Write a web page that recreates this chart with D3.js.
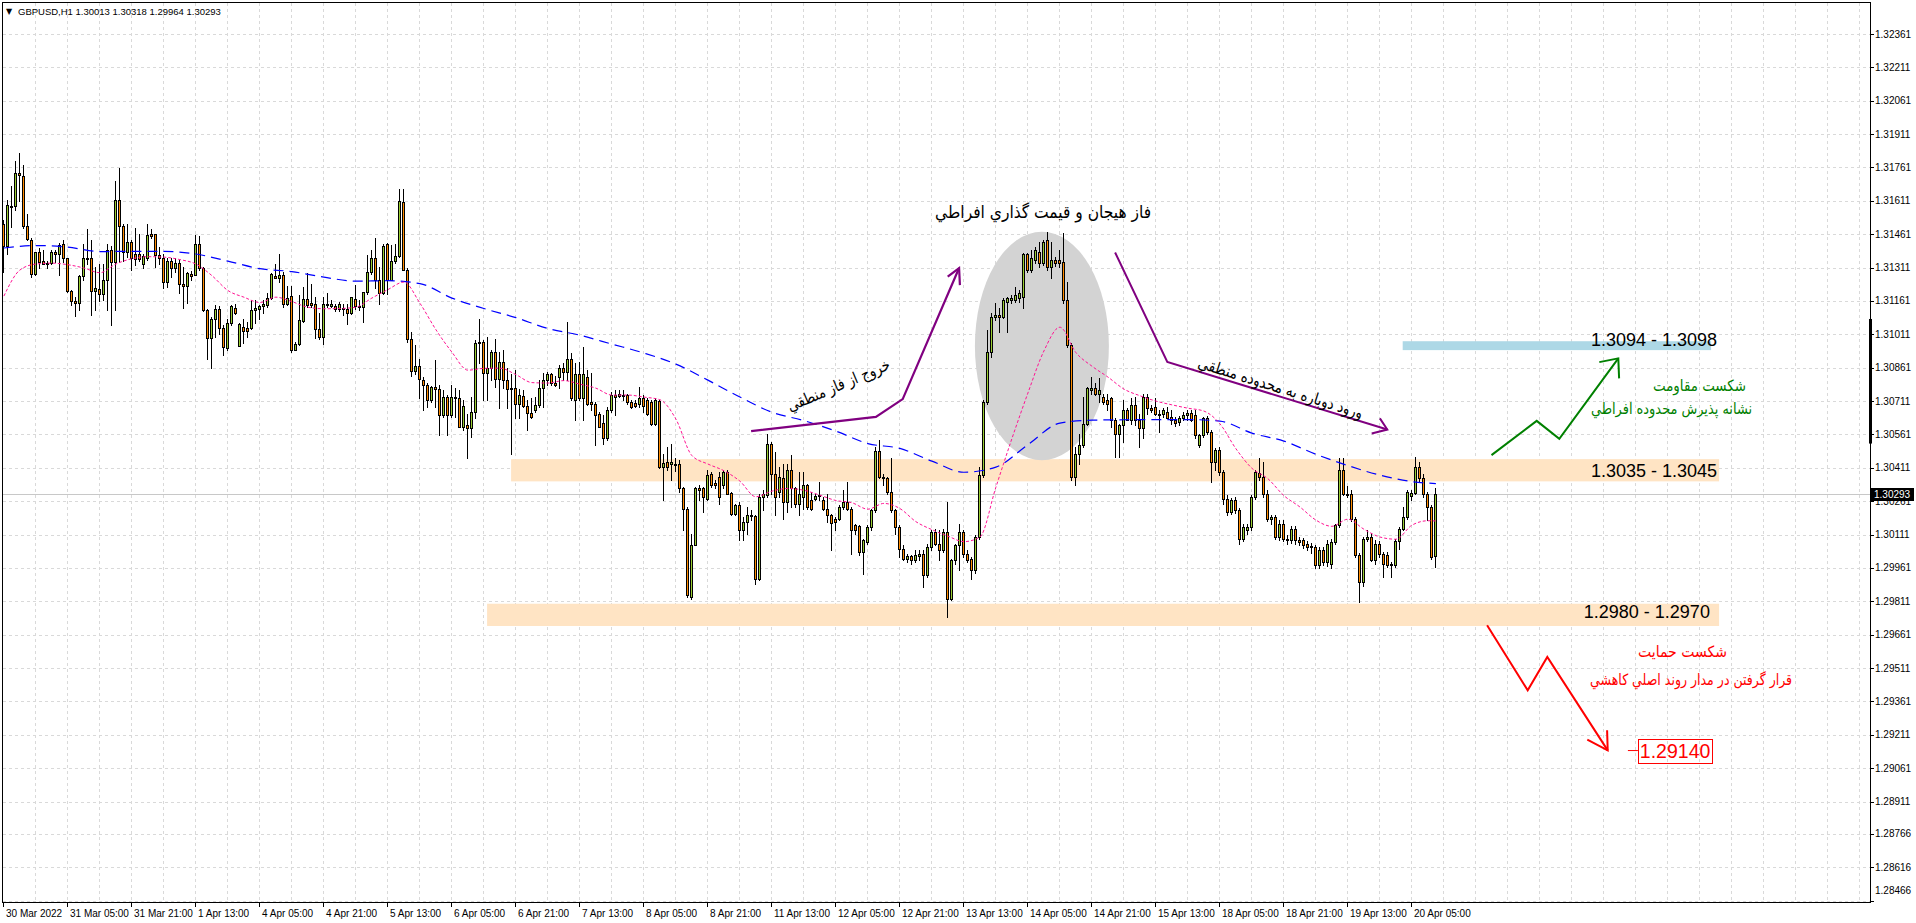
<!DOCTYPE html>
<html><head><meta charset="utf-8">
<script src="https://cdn.jsdelivr.net/npm/d3@7"></script>
<style>
html,body{margin:0;padding:0;background:#fff;overflow:hidden}
svg{display:block}
</style></head><body>
<svg id="c" width="1916" height="923"></svg>
<script>
// ---------------- DATA ----------------
const headerText = "GBPUSD,H1  1.30013 1.30318 1.29964 1.30293";
const lastPrice = 1.30293;

const opens=[
1.31509,1.31407,1.31590,1.31587,1.31734,1.31722,1.31500,1.31434,1.31284,1.31379,
1.31341,1.31332,1.31332,1.31380,1.31370,1.31415,1.31352,1.31205,1.31163,1.31154,
1.31272,1.31356,1.31352,1.31208,1.31214,1.31192,1.31254,1.31392,1.31337,1.31614,
1.31500,1.31382,1.31427,1.31371,1.31370,1.31326,1.31352,1.31460,1.31460,1.31367,
1.31356,1.31244,1.31340,1.31307,1.31332,1.31235,1.31229,1.31284,1.31279,1.31419,
1.31307,1.31122,1.30996,1.31079,1.31127,1.31041,1.30951,1.31062,1.31131,1.30960,
1.31044,1.31041,1.31041,1.31122,1.31127,1.31137,1.31142,1.31176,1.31272,1.31262,
1.31277,1.31149,1.31182,1.30942,1.30966,1.31071,1.31172,1.31152,1.31149,1.31037,
1.30999,1.31146,1.31139,1.31139,1.31127,1.31130,1.31127,1.31107,1.31172,1.31137,
1.31134,1.31202,1.31292,1.31356,1.31257,1.31197,1.31415,1.31257,1.31341,1.31362,
1.31604,1.31302,1.30990,1.30844,1.30868,1.30805,1.30783,1.30715,1.30772,1.30763,
1.30648,1.30730,1.30648,1.30730,1.30723,1.30595,1.30603,1.30588,1.30663,1.30970,
1.30978,1.30838,1.30858,1.30933,1.30808,1.30885,1.30805,1.30763,1.30768,1.30700,
1.30733,1.30688,1.30658,1.30670,1.30693,1.30768,1.30805,1.30832,1.30790,1.30820,
1.30858,1.30843,1.30898,1.30715,1.30832,1.30723,1.30817,1.30708,1.30697,1.30655,
1.30613,1.30543,1.30670,1.30738,1.30733,1.30738,1.30738,1.30708,1.30703,1.30700,
1.30727,1.30715,1.30708,1.30607,1.30711,1.30415,1.30435,1.30427,1.30430,1.30430,
1.30318,1.30228,1.29830,1.30063,1.30318,1.30318,1.30273,1.30382,1.30343,1.30370,
1.30333,1.30393,1.30298,1.30205,1.30243,1.30130,1.30168,1.30198,1.30193,1.29913,
1.30280,1.30288,1.30520,1.30385,1.30303,1.30363,1.30258,1.30403,1.30318,1.30250,
1.30280,1.30333,1.30268,1.30273,1.30283,1.30268,1.30228,1.30198,1.30183,1.30183,
1.30235,1.30258,1.30228,1.30153,1.30148,1.30033,1.30078,1.30145,1.30220,1.30486,
1.30370,1.30367,1.30303,1.30220,1.30145,1.30048,1.30003,1.30013,1.29995,1.30013,
1.30022,1.29928,1.30055,1.30123,1.30070,1.30040,1.30123,1.29823,1.29995,1.30063,
1.30123,1.30025,1.30003,1.29950,1.30100,1.30378,1.30708,1.30933,1.31090,1.31098,
1.31090,1.31158,1.31165,1.31165,1.31173,1.31180,1.31372,1.31300,1.31345,1.31383,
1.31330,1.31435,1.31315,1.31345,1.31345,1.31338,1.31165,1.30963,1.30370,1.30475,
1.30513,1.30610,1.30760,1.30768,1.30745,1.30730,1.30715,1.30723,1.30625,1.30565,
1.30603,1.30670,1.30625,1.30693,1.30625,1.30588,1.30730,1.30678,1.30685,1.30655,
1.30655,1.30663,1.30640,1.30625,1.30618,1.30633,1.30648,1.30658,1.30648,1.30513,
1.30558,1.30633,1.30573,1.30438,1.30490,1.30393,1.30273,1.30213,1.30268,1.30220,
1.30093,1.30130,1.30145,1.30280,1.30388,1.30370,1.30295,1.30183,1.30190,1.30100,
1.30160,1.30093,1.30085,1.30138,1.30085,1.30085,1.30070,1.30060,1.30055,1.29973,
1.30043,1.29988,1.29980,1.30078,1.30153,1.30400,1.30295,1.30295,1.30183,1.30018,
1.29898,1.30093,1.30100,1.29995,1.30070,1.30025,1.30018,1.29980,1.29973,1.30082,
1.30138,1.30190,1.30283,1.30298,1.30415,1.30363,1.30295,1.30235,1.30013];

const highs=[
1.31524,1.31617,1.31677,1.31791,1.31828,1.31774,1.31551,1.31442,1.31382,1.31397,
1.31389,1.31340,1.31389,1.31389,1.31422,1.31437,1.31355,1.31209,1.31179,1.31277,
1.31419,1.31484,1.31434,1.31314,1.31329,1.31329,1.31415,1.31407,1.31701,1.31760,
1.31505,1.31509,1.31434,1.31491,1.31464,1.31374,1.31506,1.31484,1.31464,1.31404,
1.31374,1.31352,1.31352,1.31352,1.31344,1.31314,1.31292,1.31296,1.31457,1.31452,
1.31314,1.31127,1.31089,1.31142,1.31139,1.31052,1.31082,1.31143,1.31149,1.31062,
1.31082,1.31067,1.31167,1.31164,1.31145,1.31167,1.31197,1.31287,1.31329,1.31370,
1.31292,1.31227,1.31227,1.30977,1.31187,1.31224,1.31287,1.31239,1.31179,1.31107,
1.31179,1.31197,1.31164,1.31149,1.31157,1.31149,1.31149,1.31179,1.31232,1.31164,
1.31202,1.31367,1.31389,1.31446,1.31314,1.31419,1.31422,1.31412,1.31419,1.31666,
1.31666,1.31307,1.31022,1.30962,1.30898,1.30820,1.30793,1.30778,1.30895,1.30783,
1.30760,1.30738,1.30783,1.30768,1.30760,1.30715,1.30655,1.30730,1.30985,1.31080,
1.30985,1.30997,1.30940,1.30988,1.30933,1.30940,1.30858,1.30832,1.30850,1.30763,
1.30760,1.30715,1.30723,1.30730,1.30805,1.30835,1.30843,1.30835,1.30823,1.30873,
1.30880,1.31065,1.30925,1.30880,1.30888,1.30955,1.30850,1.30835,1.30708,1.30663,
1.30648,1.30685,1.30753,1.30760,1.30760,1.30760,1.30745,1.30715,1.30715,1.30775,
1.30738,1.30723,1.30715,1.30723,1.30715,1.30475,1.30505,1.30520,1.30453,1.30445,
1.30325,1.30235,1.30115,1.30325,1.30333,1.30325,1.30400,1.30393,1.30355,1.30393,
1.30400,1.30400,1.30303,1.30250,1.30258,1.30190,1.30235,1.30220,1.30198,1.30295,
1.30310,1.30565,1.30528,1.30483,1.30415,1.30430,1.30430,1.30468,1.30325,1.30393,
1.30393,1.30340,1.30303,1.30295,1.30348,1.30280,1.30295,1.30205,1.30190,1.30243,
1.30310,1.30348,1.30235,1.30160,1.30153,1.30093,1.30153,1.30228,1.30505,1.30535,
1.30385,1.30370,1.30453,1.30228,1.30153,1.30063,1.30025,1.30018,1.30040,1.30040,
1.30040,1.30070,1.30130,1.30138,1.30130,1.30138,1.30258,1.30003,1.30070,1.30160,
1.30130,1.30040,1.30010,1.30110,1.30415,1.30715,1.31030,1.31105,1.31150,1.31128,
1.31173,1.31180,1.31188,1.31225,1.31210,1.31375,1.31375,1.31390,1.31405,1.31428,
1.31435,1.31473,1.31428,1.31360,1.31390,1.31465,1.31248,1.30970,1.30505,1.30565,
1.30730,1.30775,1.30820,1.30790,1.30813,1.30745,1.30745,1.30730,1.30633,1.30610,
1.30715,1.30680,1.30723,1.30730,1.30655,1.30745,1.30745,1.30693,1.30723,1.30670,
1.30680,1.30685,1.30670,1.30640,1.30645,1.30660,1.30670,1.30670,1.30670,1.30565,
1.30640,1.30645,1.30580,1.30500,1.30505,1.30400,1.30290,1.30275,1.30280,1.30230,
1.30160,1.30160,1.30290,1.30400,1.30453,1.30438,1.30310,1.30200,1.30200,1.30175,
1.30175,1.30110,1.30150,1.30150,1.30100,1.30095,1.30080,1.30075,1.30065,1.30055,
1.30055,1.30085,1.30090,1.30160,1.30453,1.30453,1.30330,1.30310,1.30190,1.30030,
1.30100,1.30130,1.30120,1.30085,1.30080,1.30033,1.30033,1.29988,1.30093,1.30145,
1.30235,1.30310,1.30310,1.30460,1.30438,1.30385,1.30303,1.30243,1.30318];

const lows=[
1.31292,1.31374,1.31494,1.31569,1.31610,1.31487,1.31434,1.31269,1.31277,1.31307,
1.31326,1.31307,1.31329,1.31337,1.31277,1.31335,1.31202,1.31142,1.31094,1.31119,
1.31254,1.31329,1.31100,1.31119,1.31161,1.31164,1.31119,1.31055,1.31119,1.31335,
1.31341,1.31359,1.31302,1.31322,1.31341,1.31311,1.31347,1.31445,1.31314,1.31329,
1.31217,1.31224,1.31269,1.31292,1.31197,1.31131,1.31152,1.31254,1.31277,1.31302,
1.31116,1.30902,1.30859,1.30999,1.31014,1.30920,1.30942,1.31052,1.31101,1.30959,
1.30972,1.30999,1.31037,1.31062,1.31079,1.31107,1.31134,1.31172,1.31262,1.31247,
1.31134,1.31142,1.30932,1.30939,1.30962,1.31067,1.31134,1.31134,1.30996,1.30992,
1.30966,1.31134,1.31134,1.31116,1.31116,1.31097,1.31059,1.31104,1.31127,1.31119,
1.31067,1.31191,1.31284,1.31217,1.31149,1.31191,1.31194,1.31254,1.31332,1.31359,
1.31299,1.30977,1.30822,1.30834,1.30723,1.30670,1.30685,1.30708,1.30685,1.30558,
1.30640,1.30558,1.30640,1.30640,1.30595,1.30580,1.30453,1.30550,1.30633,1.30880,
1.30715,1.30715,1.30805,1.30775,1.30678,1.30768,1.30678,1.30475,1.30633,1.30633,
1.30685,1.30580,1.30635,1.30663,1.30685,1.30685,1.30783,1.30783,1.30778,1.30768,
1.30805,1.30805,1.30715,1.30625,1.30715,1.30625,1.30693,1.30670,1.30513,1.30595,
1.30520,1.30538,1.30663,1.30648,1.30730,1.30715,1.30700,1.30678,1.30685,1.30685,
1.30663,1.30648,1.30603,1.30603,1.30408,1.30265,1.30400,1.30355,1.30397,1.30303,
1.30130,1.29830,1.29823,1.30063,1.30265,1.30213,1.30265,1.30325,1.30318,1.30250,
1.30318,1.30295,1.30198,1.30198,1.30085,1.30085,1.30115,1.30175,1.29890,1.29905,
1.30220,1.30280,1.30295,1.30198,1.30280,1.30183,1.30213,1.30235,1.30235,1.30198,
1.30228,1.30228,1.30220,1.30265,1.30265,1.30220,1.30168,1.30040,1.30130,1.30175,
1.30228,1.30220,1.30025,1.30115,1.30018,1.29935,1.30070,1.30130,1.30213,1.30363,
1.30333,1.30295,1.30213,1.30115,1.30010,1.29995,1.29988,1.29980,1.29988,1.29998,
1.29875,1.29920,1.30040,1.30063,1.29995,1.30033,1.29739,1.29815,1.29980,1.29950,
1.30010,1.29988,1.29913,1.29940,1.30093,1.30370,1.30700,1.30910,1.31075,1.31023,
1.31083,1.31023,1.31150,1.31158,1.31158,1.31128,1.31293,1.31293,1.31330,1.31315,
1.31323,1.31300,1.31263,1.31320,1.31315,1.31150,1.30955,1.30355,1.30333,1.30430,
1.30505,1.30603,1.30745,1.30740,1.30708,1.30700,1.30670,1.30595,1.30460,1.30460,
1.30528,1.30625,1.30610,1.30603,1.30505,1.30543,1.30655,1.30663,1.30648,1.30573,
1.30640,1.30633,1.30610,1.30600,1.30605,1.30625,1.30625,1.30620,1.30543,1.30505,
1.30550,1.30565,1.30348,1.30400,1.30380,1.30250,1.30200,1.30205,1.30210,1.30070,
1.30080,1.30115,1.30130,1.30273,1.30355,1.30280,1.30170,1.30160,1.30090,1.30085,
1.30080,1.30070,1.30075,1.30070,1.30065,1.30050,1.30040,1.30030,1.29960,1.29960,
1.29975,1.29970,1.29960,1.30070,1.30145,1.30288,1.30280,1.30170,1.30010,1.29810,
1.29880,1.30080,1.29990,1.29980,1.30010,1.29920,1.29965,1.29920,1.29965,1.30048,
1.30130,1.30183,1.30265,1.30292,1.30348,1.30280,1.30175,1.30003,1.29964];

const closes=[
1.31407,1.31592,1.31589,1.31734,1.31725,1.31500,1.31439,1.31284,1.31379,1.31338,
1.31329,1.31331,1.31382,1.31370,1.31412,1.31352,1.31205,1.31163,1.31154,1.31272,
1.31356,1.31352,1.31208,1.31217,1.31192,1.31257,1.31392,1.31337,1.31614,1.31500,
1.31382,1.31424,1.31352,1.31349,1.31349,1.31362,1.31457,1.31451,1.31367,1.31356,
1.31244,1.31340,1.31307,1.31332,1.31235,1.31229,1.31287,1.31274,1.31416,1.31307,
1.31119,1.30996,1.31079,1.31127,1.31041,1.30954,1.31062,1.31137,1.31109,1.31056,
1.31026,1.31025,1.31122,1.31131,1.31139,1.31146,1.31176,1.31281,1.31266,1.31278,
1.31149,1.31176,1.30939,1.30966,1.31074,1.31172,1.31142,1.31142,1.31037,1.30999,
1.31146,1.31145,1.31146,1.31124,1.31149,1.31124,1.31107,1.31179,1.31139,1.31134,
1.31202,1.31292,1.31352,1.31257,1.31197,1.31410,1.31257,1.31341,1.31362,1.31610,
1.31302,1.30990,1.30844,1.30867,1.30808,1.30783,1.30715,1.30772,1.30763,1.30648,
1.30730,1.30648,1.30730,1.30723,1.30595,1.30688,1.30588,1.30663,1.30970,1.30978,
1.30838,1.30858,1.30933,1.30808,1.30885,1.30805,1.30763,1.30768,1.30700,1.30738,
1.30688,1.30658,1.30640,1.30693,1.30768,1.30805,1.30832,1.30790,1.30783,1.30858,
1.30843,1.30898,1.30723,1.30832,1.30723,1.30832,1.30700,1.30697,1.30648,1.30595,
1.30543,1.30670,1.30738,1.30730,1.30742,1.30733,1.30708,1.30685,1.30688,1.30726,
1.30688,1.30655,1.30607,1.30715,1.30415,1.30433,1.30415,1.30435,1.30423,1.30318,
1.30228,1.29838,1.30063,1.30318,1.30310,1.30280,1.30378,1.30333,1.30333,1.30280,
1.30393,1.30295,1.30205,1.30243,1.30130,1.30168,1.30198,1.30193,1.29913,1.30280,
1.30295,1.30520,1.30385,1.30280,1.30370,1.30258,1.30400,1.30318,1.30250,1.30295,
1.30333,1.30235,1.30228,1.30283,1.30288,1.30228,1.30198,1.30163,1.30168,1.30235,
1.30258,1.30228,1.30130,1.30130,1.30033,1.30085,1.30145,1.30220,1.30486,1.30370,
1.30363,1.30303,1.30220,1.30145,1.30048,1.30003,1.30013,1.29995,1.30018,1.30022,
1.29928,1.30055,1.30123,1.30070,1.30040,1.30123,1.29823,1.29995,1.30063,1.30123,
1.30025,1.29995,1.29950,1.30100,1.30378,1.30708,1.30933,1.31090,1.31098,1.31090,
1.31165,1.31173,1.31173,1.31188,1.31195,1.31372,1.31300,1.31353,1.31390,1.31330,
1.31428,1.31315,1.31345,1.31333,1.31330,1.31165,1.30963,1.30370,1.30475,1.30513,
1.30610,1.30768,1.30768,1.30745,1.30760,1.30708,1.30700,1.30625,1.30565,1.30603,
1.30670,1.30625,1.30693,1.30625,1.30588,1.30730,1.30678,1.30670,1.30655,1.30648,
1.30670,1.30633,1.30625,1.30613,1.30633,1.30648,1.30658,1.30625,1.30558,1.30558,
1.30633,1.30573,1.30438,1.30490,1.30393,1.30273,1.30213,1.30265,1.30220,1.30093,
1.30145,1.30145,1.30280,1.30393,1.30370,1.30295,1.30183,1.30190,1.30100,1.30160,
1.30093,1.30088,1.30138,1.30085,1.30078,1.30063,1.30055,1.30055,1.29973,1.30043,
1.29988,1.30070,1.30078,1.30153,1.30400,1.30295,1.30288,1.30183,1.30018,1.29898,
1.30093,1.30100,1.29995,1.30070,1.30022,1.29980,1.29973,1.29973,1.30082,1.30138,
1.30190,1.30303,1.30298,1.30415,1.30363,1.30295,1.30235,1.30010,1.30293];

// slow moving average (blue), read every 8 bars, plus last bar
const slowMA=[1.31399,1.31410,1.31403,1.31383,1.31384,1.31384,1.31372,1.31340,1.31306,1.31293,
1.31268,1.31250,1.31252,1.31239,1.31174,1.31127,1.31086,1.31037,1.31007,1.30967,
1.30927,1.30877,1.30805,1.30729,1.30661,1.30623,1.30576,1.30520,1.30498,1.30441,
1.30391,1.30414,1.30515,1.30612,1.30625,1.30627,1.30628,1.30628,1.30621,1.30567,
1.30531,1.30472,1.30421,1.30378,1.30349,1.30340];
// fast moving average (pink), read every 4 bars, plus last bar
const fastMA=[1.31183,1.31300,1.31327,1.31331,1.31324,1.31309,1.31288,1.31327,1.31351,1.31360,
1.31358,1.31347,1.31327,1.31275,1.31208,1.31178,1.31154,1.31178,1.31158,1.31133,
1.31126,1.31127,1.31133,1.31174,1.31212,1.31246,1.31151,1.31032,1.30931,1.30850,
1.30858,1.30859,1.30830,1.30794,1.30792,1.30803,1.30787,1.30769,1.30738,1.30738,
1.30729,1.30717,1.30630,1.30466,1.30428,1.30398,1.30351,1.30281,1.30306,1.30318,
1.30310,1.30288,1.30264,1.30254,1.30225,1.30251,1.30228,1.30169,1.30133,1.30104,
1.30079,1.30100,1.30324,1.30542,1.30747,1.30936,1.31043,1.30929,1.30868,1.30819,
1.30765,1.30735,1.30711,1.30694,1.30679,1.30666,1.30609,1.30497,1.30409,1.30362,
1.30286,1.30235,1.30176,1.30148,1.30180,1.30135,1.30100,1.30090,1.30153,1.30173,
1.30172];

const priceTicks=[1.32361,1.32211,1.32061,1.31911,1.31761,1.31611,1.31461,1.31311,1.31161,1.31011,
1.30861,1.30711,1.30561,1.30411,1.30261,1.30111,1.29961,1.29811,1.29661,1.29511,
1.29361,1.29211,1.29061,1.28911,1.28766,1.28616,1.28466];
const timeLabels=["30 Mar 2022","31 Mar 05:00","31 Mar 21:00","1 Apr 13:00","4 Apr 05:00","4 Apr 21:00",
"5 Apr 13:00","6 Apr 05:00","6 Apr 21:00","7 Apr 13:00","8 Apr 05:00","8 Apr 21:00","11 Apr 13:00",
"12 Apr 05:00","12 Apr 21:00","13 Apr 13:00","14 Apr 05:00","14 Apr 21:00","15 Apr 13:00","18 Apr 05:00",
"18 Apr 21:00","19 Apr 13:00","20 Apr 05:00"];
const timeTickBars=[0,16,32,48,64,80,96,112,128,144,160,176,192,208,224,240,256,272,288,304,320,336,352];

// zones (bar index range, price range)
const zones=[
 {from:349.7,to:426.8,lo:1.3094,hi:1.3098,color:"#add8e6",label:"1.3094 - 1.3098",lx:428.3,ly:1.30985},
 {from:126.8,to:428.8,lo:1.3035,hi:1.3045,color:"#ffe4c4",label:"1.3035 - 1.3045",lx:428.3,ly:1.30397},
 {from:120.8,to:428.8,lo:1.2970,hi:1.2980,color:"#ffe4c4",label:"1.2980 - 1.2970",lx:426.5,ly:1.29763}
];
const target={bar:417.8,price:1.29140,label:"1.29140"};

// ---------------- CHART ----------------
const svg=d3.select("#c");
const R=1870, B=902;
const x=d3.scaleLinear().domain([0,358]).range([3.9,1435.9]);
const y=d3.scaleLinear().domain([1.28466,1.32361]).range([900.5,34]);
const AX="'Liberation Sans',Arial,sans-serif";
const FA="'DejaVu Sans','Noto Sans',sans-serif";

svg.append("rect").attr("width",1916).attr("height",923).attr("fill","#fff");

// grid
const grid=svg.append("g").attr("stroke","#d9d9d9").attr("stroke-dasharray","3,3").attr("shape-rendering","crispEdges");
grid.selectAll(".h").data(priceTicks).join("line")
 .attr("x1",3).attr("x2",R).attr("y1",d=>Math.round(y(d))+0.5).attr("y2",d=>Math.round(y(d))+0.5);
grid.selectAll(".v").data(d3.range(8,466,8)).join("line")
 .attr("y1",3).attr("y2",B).attr("x1",d=>Math.floor(x(d))+0.5).attr("x2",d=>Math.floor(x(d))+0.5);

// background objects: zones, ellipse
svg.append("g").selectAll("rect").data(zones).join("rect")
 .attr("x",d=>x(d.from)).attr("width",d=>x(d.to)-x(d.from))
 .attr("y",d=>y(d.hi)).attr("height",d=>y(d.lo)-y(d.hi)).attr("fill",d=>d.color);

const ec={bar:259.5,price:1.309585};
svg.append("ellipse").attr("cx",x(ec.bar)).attr("cy",y(ec.price))
 .attr("rx",x(ec.bar+16.75)-x(ec.bar)).attr("ry",y(ec.price-0.005135)-y(ec.price))
 .attr("fill","#d3d3d3");

// bid line
svg.append("line").attr("x1",3).attr("x2",R).attr("y1",Math.round(y(lastPrice))+0.5).attr("y2",Math.round(y(lastPrice))+0.5)
 .attr("stroke","#c8c8c8").attr("shape-rendering","crispEdges");

// candles
const bars=opens.map((o,i)=>({i,o,h:highs[i],l:lows[i],c:closes[i]}));
const cg=svg.append("g").attr("shape-rendering","crispEdges");
cg.selectAll("line").data(bars).join("line")
 .attr("x1",d=>Math.floor(x(d.i))+0.5).attr("x2",d=>Math.floor(x(d.i))+0.5)
 .attr("y1",d=>Math.round(y(d.h))).attr("y2",d=>Math.round(y(d.l))+1)
 .attr("stroke","#000");
cg.selectAll("rect").data(bars).join("rect")
 .attr("x",d=>Math.floor(x(d.i))-0.5).attr("width",2)
 .attr("y",d=>Math.round(y(Math.max(d.o,d.c)))+0.5)
 .attr("height",d=>Math.max(1,Math.round(y(Math.min(d.o,d.c)))-Math.round(y(Math.max(d.o,d.c)))))
 .attr("fill",d=>d.c>=d.o?"#9acd32":"#ff8c00").attr("stroke","#000");

// moving averages
const slowBars=d3.range(0,353,8).concat([358]);
const fastBars=d3.range(0,357,4).concat([358]);
svg.append("path").datum(slowMA.map((v,k)=>[slowBars[k],v]))
 .attr("d",d3.line().x(d=>x(d[0])).y(d=>y(d[1])).curve(d3.curveMonotoneX))
 .attr("fill","none").attr("stroke","#0000ff").attr("stroke-width",1.2).attr("stroke-dasharray","10,6");
svg.append("path").datum(fastMA.map((v,k)=>[fastBars[k],v]))
 .attr("d",d3.line().x(d=>x(d[0])).y(d=>y(d[1])).curve(d3.curveMonotoneX))
 .attr("fill","none").attr("stroke","#ff1493").attr("stroke-width",1).attr("stroke-dasharray","3,2");

// annotation lines (bar index, price)
function poly(pts,color,w){
 svg.append("path").datum(pts).attr("d",d3.line().x(d=>x(d[0])).y(d=>y(d[1])))
  .attr("fill","none").attr("stroke",color).attr("stroke-width",w).attr("stroke-linejoin","miter");
}
const purple="#800080";
poly([[186.8,1.30576],[218,1.30640],[224.7,1.30720],[238.8,1.31309]],purple,2.2);
poly([[235.95,1.31270],[238.8,1.31309],[239,1.31232]],purple,2.2);
poly([[277.8,1.31379],[290.85,1.30887],[345.85,1.30583]],purple,2);
poly([[344,1.30633],[345.85,1.30583],[341.95,1.30565]],purple,2);
poly([[371.9,1.30468],[383.2,1.30622],[388.85,1.30541],[403.6,1.30903]],"#008000",2);
poly([[398.85,1.30886],[403.6,1.30903],[403.8,1.30813]],"#008000",2);
poly([[370.8,1.29703],[380.95,1.29411],[385.85,1.29561],[400.95,1.29141]],"#ff0000",2);
poly([[395.85,1.29189],[400.95,1.29141],[400.8,1.29231]],"#ff0000",2);

// texts
function ftext(bar,price,str,opt){
 const t=svg.append("text").attr("transform",`translate(${x(bar)},${y(price)}) rotate(${opt.rot||0})`)
  .attr("text-anchor","middle").attr("dominant-baseline","central")
  .attr("font-family",FA).attr("font-size",opt.size).attr("fill",opt.color).text(str);
 if(opt.len) t.attr("textLength",opt.len).attr("lengthAdjust","spacingAndGlyphs");
}
ftext(259.8,1.31562,"فاز هيجان و قيمت گذاري افراطي",{size:17.5,color:"#000",len:216});
ftext(208.65,1.30783,"خروج از فاز منطقي",{size:16,color:"#000",len:110,rot:-23});
ftext(319.2,1.30771,"ورود دوباره به محدوده منطقي",{size:16,color:"#000",len:172,rot:17.4});
ftext(423.9,1.30778,"شکست مقاومت",{size:15.5,color:"#008000",len:93});
ftext(416.9,1.30675,"نشانه پذیرش محدوده افراطي",{size:15.5,color:"#008000",len:161});
ftext(419.65,1.29583,"شکست حمایت",{size:15.5,color:"#ff0000",len:89});
ftext(421.8,1.29456,"قرار گرفتن در مدار روند اصلي کاهشي",{size:15.5,color:"#ff0000",len:202});

// zone labels
svg.append("g").selectAll("text").data(zones).join("text")
 .attr("x",d=>x(d.lx)).attr("y",d=>y(d.ly)).attr("text-anchor","end").attr("dominant-baseline","central")
 .attr("font-family",AX).attr("font-size",18).attr("fill","#000").text(d=>d.label);

// target price label
const tx=x(target.bar), ty=y(target.price);
svg.append("line").attr("x1",x(406)).attr("x2",x(408.5)).attr("y1",ty).attr("y2",ty).attr("stroke","#ff0000");
const tt=svg.append("text").attr("x",tx).attr("y",ty).attr("text-anchor","middle").attr("dominant-baseline","central")
 .attr("font-family",AX).attr("font-size",19.5).attr("fill","#ff0000").text(target.label);
const bb=tt.node().getBBox();
svg.append("rect").attr("x",Math.round(bb.x)-1.5).attr("y",Math.round(ty)-11.5).attr("width",Math.round(bb.width)+3).attr("height",24)
 .attr("fill","none").attr("stroke","#ff0000");

// frame
svg.append("rect").attr("x",2.5).attr("y",2.5).attr("width",R-2).attr("height",B-2)
 .attr("fill","none").attr("stroke","#000").attr("shape-rendering","crispEdges");
svg.append("rect").attr("x",1869).attr("y",y(1.3108)).attr("width",3).attr("height",y(1.3052)-y(1.3108)).attr("fill","#000");

// right axis
const ra=svg.append("g").attr("font-family",AX).attr("font-size",10);
ra.selectAll("line").data(priceTicks).join("line").attr("x1",R).attr("x2",R+4)
 .attr("y1",d=>Math.round(y(d))+0.5).attr("y2",d=>Math.round(y(d))+0.5).attr("stroke","#000");
ra.selectAll("text").data(priceTicks).join("text").attr("x",R+5)
 .attr("y",d=>Math.min(y(d),890)).attr("dominant-baseline","central").attr("fill","#000").text(d=>d.toFixed(5));
// last price tag
svg.append("rect").attr("x",R+1).attr("y",Math.round(y(lastPrice))-6).attr("width",43).attr("height",13).attr("fill","#000");
svg.append("text").attr("x",R+4).attr("y",y(lastPrice)+0.5).attr("dominant-baseline","central")
 .attr("font-family",AX).attr("font-size",10).attr("fill","#fff").text(lastPrice.toFixed(5));

// bottom axis
const ba=svg.append("g").attr("font-family",AX).attr("font-size",10);
ba.selectAll("line").data(timeTickBars).join("line")
 .attr("x1",d=>Math.floor(x(d))+0.5).attr("x2",d=>Math.floor(x(d))+0.5).attr("y1",B).attr("y2",B+5).attr("stroke","#000");
ba.selectAll("text").data(timeTickBars).join("text")
 .attr("x",d=>Math.floor(x(d))+3).attr("y",B+11).attr("dominant-baseline","central").attr("fill","#000")
 .text((d,k)=>timeLabels[k]);

// header
svg.append("text").attr("x",6).attr("y",11).attr("dominant-baseline","central").attr("font-family",FA)
 .attr("font-size",8).text("▼");
svg.append("text").attr("x",18).attr("y",11).attr("dominant-baseline","central").attr("font-family",AX)
 .attr("font-size",9.5).attr("fill","#000").text(headerText);
</script>
</body></html>
